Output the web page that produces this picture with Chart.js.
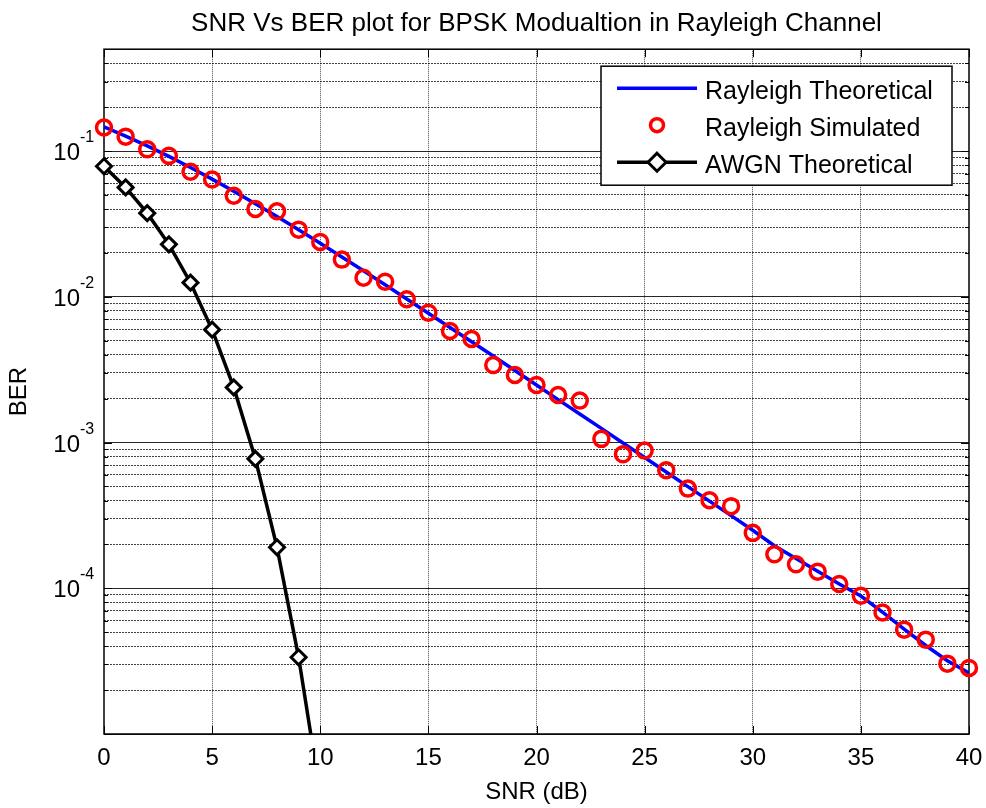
<!DOCTYPE html>
<html>
<head>
<meta charset="utf-8">
<script src="https://cdn.jsdelivr.net/npm/chart.js@4.4.1/dist/chart.umd.min.js"></script>
<style>
  html, body { margin: 0; padding: 0; background: #fff; }
  #wrap { width: 986px; height: 808px; }
</style>
</head>
<body>
<div id="wrap"><canvas id="berChart" width="986" height="808"></canvas></div>
<script>
// SNR in dB for the Rayleigh curves
const snrDb = [0, 1, 2, 3, 4, 5, 6, 7, 8, 9, 10, 11, 12, 13, 14, 15, 16, 17, 18, 19, 20,
  21, 22, 23, 24, 25, 26, 27, 28, 29, 30, 31, 32, 33, 34, 35, 36, 37, 38, 39, 40];

// Rayleigh theoretical BER (blue line)
const rayleighTheory = [0.1464, 0.1267, 0.1085, 0.0919, 0.0771, 0.0642, 0.0530, 0.0435, 0.0355, 0.0288,
  0.0233, 0.01875, 0.01507, 0.01208, 0.00966, 0.00772, 0.00616, 0.00491, 0.00392, 0.00312,
  0.00248, 0.00197, 0.00157, 0.00125, 0.000992, 0.000789, 0.000627, 0.000498, 0.000396, 0.000315,
  0.000250, 0.000196, 0.000160, 0.000131, 0.000107, 0.0000885, 0.0000685, 0.0000525, 0.0000405, 0.0000318,
  0.0000262];

// Rayleigh simulated BER (red circles)
const rayleighSim = [0.145, 0.1256, 0.1028, 0.0927, 0.0721, 0.0638, 0.0494, 0.0400, 0.0386, 0.0289,
  0.0238, 0.0180, 0.0135, 0.0127, 0.00962, 0.00778, 0.00583, 0.00513, 0.00340, 0.00291,
  0.00248, 0.00212, 0.00194, 0.00106, 0.00083, 0.00088, 0.000645, 0.000483, 0.000402, 0.000366,
  0.000240, 0.000171, 0.000146, 0.000130, 0.000107, 0.0000888, 0.0000682, 0.0000520, 0.0000444, 0.0000304,
  0.0000284];

// AWGN theoretical BER (black diamonds)
const awgnSnr = [0, 1, 2, 3, 4, 5, 6, 7, 8, 9, 10];
const awgnTheory = [0.0786, 0.0563, 0.0375, 0.0229, 0.0125, 0.00595, 0.00239, 0.000773, 0.000191, 0.0000336, 0.00000387];

// axes
const xTicks = [0, 5, 10, 15, 20, 25, 30, 35, 40];
const yDecades = [-5, -4, -3, -2, -1];
const yLabelExps = [-1, -2, -3, -4];
const yMin = 1e-5;
const yMax = 0.5;

const FONT = '"Liberation Sans", Arial, Helvetica, sans-serif';
Chart.defaults.font.family = FONT;
Chart.defaults.color = '#000';

// log grid: 1..9 x 10^n
const yTickValues = [];
yDecades.forEach(e => {
  for (let m = 1; m <= 9; m++) {
    const v = m * Math.pow(10, e);
    if (v <= yMax * 1.0001) yTickValues.push(v);
  }
});

function isDecade(v) {
  const l = Math.log10(v);
  return Math.abs(l - Math.round(l)) < 1e-9;
}

// box, inside tick marks and 10^n labels
const axesDecor = {
  id: 'axesDecor',
  beforeDatasetsDraw(chart) {
    const { ctx, chartArea: a, scales: { x, y } } = chart;
    ctx.save();
    ctx.strokeStyle = '#000';
    ctx.lineWidth = 1;
    ctx.beginPath();
    yTickValues.forEach(v => {
      const py = Math.round(y.getPixelForValue(v)) + 0.5;
      const len = isDecade(v) ? 8 : 4;
      ctx.moveTo(a.left, py); ctx.lineTo(a.left + len, py);
      ctx.moveTo(a.right, py); ctx.lineTo(a.right - len, py);
    });
    xTicks.forEach(v => {
      const px = Math.round(x.getPixelForValue(v)) + 0.5;
      ctx.moveTo(px, a.bottom); ctx.lineTo(px, a.bottom - 8);
      ctx.moveTo(px, a.top); ctx.lineTo(px, a.top + 8);
    });
    ctx.stroke();

    ctx.lineWidth = 1.5;
    ctx.strokeRect(a.left, a.top, a.right - a.left, a.bottom - a.top);

    ctx.fillStyle = '#000';
    ctx.textBaseline = 'alphabetic';
    yLabelExps.forEach(e => {
      const py = y.getPixelForValue(Math.pow(10, e));
      ctx.font = '24px ' + FONT;
      ctx.textAlign = 'right';
      ctx.fillText('10', a.left - 24, py + 9);
      ctx.font = '16px ' + FONT;
      ctx.textAlign = 'left';
      ctx.fillText(String(e), a.left - 24, py - 9);
    });
    ctx.restore();
  },
  afterDraw(chart) {
    // legend: line sample + open marker + label
    const { ctx, chartArea: a } = chart;
    const left = a.right - 368;
    const top = a.top + 17;
    const w = 351, h = 119;
    ctx.save();
    ctx.fillStyle = '#fff';
    ctx.fillRect(left, top, w, h);
    ctx.strokeStyle = '#000';
    ctx.lineWidth = 1.5;
    ctx.strokeRect(left, top, w, h);

    const rows = [top + 22, top + 59, top + 96];
    const mx = left + 56;
    chart.data.datasets.forEach((ds, i) => {
      const ry = rows[i];
      if (ds.showLine !== false) {
        ctx.strokeStyle = ds.borderColor;
        ctx.lineWidth = ds.borderWidth;
        ctx.beginPath();
        ctx.moveTo(left + 16, ry);
        ctx.lineTo(left + 96, ry);
        ctx.stroke();
      }
      if (ds.pointRadius > 0) {
        ctx.fillStyle = ds.pointBackgroundColor;
        ctx.strokeStyle = ds.pointBorderColor;
        ctx.lineWidth = ds.pointBorderWidth;
        ctx.beginPath();
        if (ds.pointStyle === 'rectRot') {
          const r = 9;
          ctx.moveTo(mx, ry - r); ctx.lineTo(mx + r, ry); ctx.lineTo(mx, ry + r); ctx.lineTo(mx - r, ry); ctx.closePath();
        } else {
          ctx.arc(mx, ry, 6.5, 0, Math.PI * 2);
        }
        ctx.fill();
        ctx.stroke();
      }
      ctx.fillStyle = '#000';
      ctx.font = '25px ' + FONT;
      ctx.textAlign = 'left';
      ctx.textBaseline = 'alphabetic';
      ctx.fillText(ds.label, left + 104, ry + 11);
    });
    ctx.restore();
  }
};

const ctx = document.getElementById('berChart');
new Chart(ctx, {
  type: 'line',
  data: {
    datasets: [
      {
        label: 'Rayleigh Theoretical',
        data: snrDb.map((s, i) => ({ x: s, y: rayleighTheory[i] })),
        borderColor: '#0000ff',
        borderWidth: 3.5,
        pointRadius: 0,
        fill: false,
        tension: 0,
        order: 3
      },
      {
        label: 'Rayleigh Simulated',
        data: snrDb.map((s, i) => ({ x: s, y: rayleighSim[i] })),
        showLine: false,
        borderColor: '#ff0000',
        pointStyle: 'circle',
        pointRadius: 7.5,
        pointBorderWidth: 3.5,
        pointBorderColor: '#ff0000',
        pointBackgroundColor: 'rgba(0,0,0,0)',
        clip: false,
        order: 1
      },
      {
        label: 'AWGN Theoretical',
        data: awgnSnr.map((s, i) => ({ x: s, y: awgnTheory[i] })),
        borderColor: '#000000',
        borderWidth: 3.5,
        pointStyle: 'rectRot',
        pointRadius: 7.5,
        pointBorderWidth: 3,
        pointBorderColor: '#000000',
        pointBackgroundColor: '#ffffff',
        tension: 0,
        clip: { left: 12, top: 12, right: 12, bottom: 0 },
        order: 2
      }
    ]
  },
  options: {
    responsive: false,
    animation: false,
    devicePixelRatio: 1,
    events: [],
    layout: { padding: { left: 0, right: 17, top: 0, bottom: 0 } },
    plugins: {
      legend: { display: false },
      tooltip: { enabled: false },
      title: {
        display: true,
        text: 'SNR Vs BER plot for BPSK Modualtion in Rayleigh Channel',
        fullSize: false,
        color: '#000',
        font: { size: 26, weight: 'normal' },
        padding: { top: 8, bottom: 10 }
      }
    },
    scales: {
      x: {
        type: 'linear',
        min: 0,
        max: 40,
        afterBuildTicks: s => { s.ticks = xTicks.map(v => ({ value: v })); },
        afterFit: s => { s.height = 74; s.paddingLeft = 0; s.paddingRight = 0; },
        ticks: { font: { size: 24 }, padding: 10, maxRotation: 0 },
        grid: {
          drawTicks: false,
          lineWidth: 1,
          color: c => (c.tick && (c.tick.value === 0 || c.tick.value === 40)) ? 'rgba(0,0,0,0)' : 'rgba(0,0,0,0.7)'
        },
        border: { display: false, dash: [1, 1] },
        title: { display: true, text: 'SNR (dB)', font: { size: 24 }, padding: { top: 0, bottom: 1 } }
      },
      y: {
        type: 'logarithmic',
        min: yMin,
        max: yMax,
        afterBuildTicks: s => { s.ticks = yTickValues.map(v => ({ value: v })); },
        afterFit: s => { s.width = 104; },
        ticks: { display: false },
        grid: {
          drawTicks: false,
          lineWidth: 1,
          color: c => (c.tick && isDecade(c.tick.value)) ? 'rgba(0,0,0,0.85)' : 'rgba(0,0,0,0.75)'
        },
        border: {
          display: false,
          dash: c => (c.tick && isDecade(c.tick.value)) ? [] : [2, 1]
        },
        title: { display: true, text: 'BER', font: { size: 24 }, padding: { top: 5, bottom: 0 } }
      }
    }
  },
  plugins: [axesDecor]
});
</script>
</body>
</html>
